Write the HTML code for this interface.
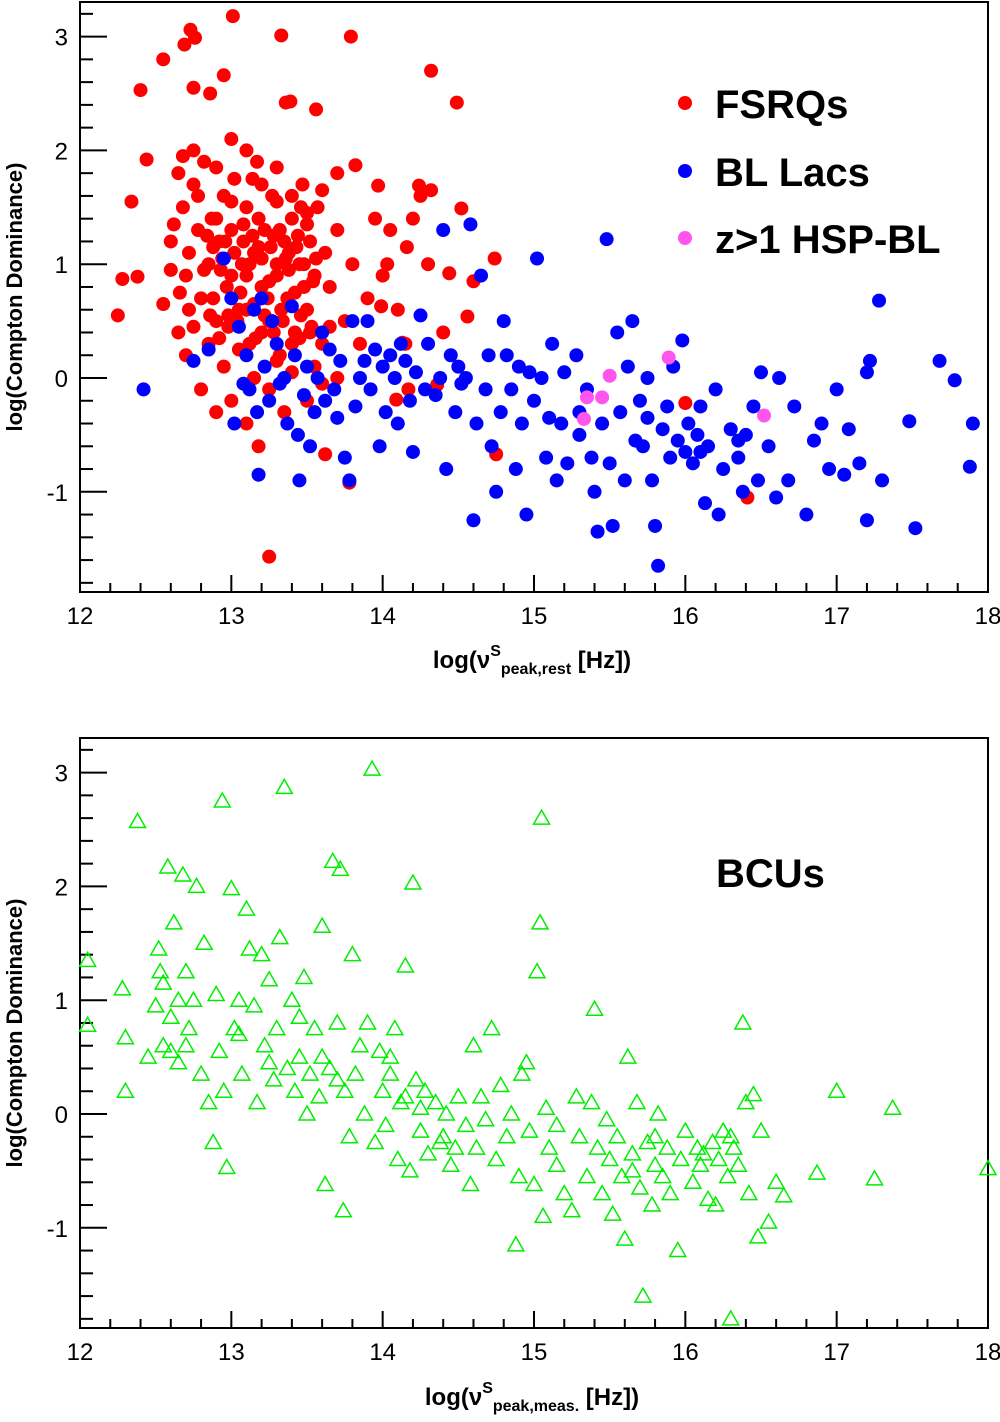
<!DOCTYPE html>
<html><head><meta charset="utf-8"><style>
html,body{margin:0;padding:0;background:#fff;}
svg{display:block;font-family:"Liberation Sans",Arial,sans-serif;}
</style></head><body>
<svg id="chart" width="1000" height="1422" viewBox="0 0 1000 1422" xmlns="http://www.w3.org/2000/svg"></svg>
<script>
const xTicks=[12,13,14,15,16,17,18];
const yTicks=[-1,0,1,2,3];
const fsrqX=[12.25,12.28,12.38,12.34,12.4,12.44,12.55,12.69,12.73,12.76,12.75,12.86,12.95,13.01,13.33,13.79,14.32,14.49,13.36,13.39,13.56,13.25,13.78,13.62,13.18,14.75,16.41,16.0,13.82,13.97,14.24,14.32,14.52,14.74,14.56,14.44,14.16,14.03,13.99,14.13,14.09,14.17,14.36,
12.6,12.62,12.65,12.68,12.7,12.72,12.75,12.78,12.8,12.82,12.85,12.87,12.9,12.92,12.95,12.97,13.0,13.02,13.05,13.07,13.1,13.12,13.15,13.17,13.2,13.22,13.25,13.27,13.3,13.32,13.35,13.37,13.4,13.42,13.45,13.47,13.5,13.52,13.55,13.57,13.6,13.62,13.65,13.7,13.75,13.8,12.7,12.75,12.8,12.85,12.9,12.95,13.0,13.05,13.1,13.15,13.2,13.25,13.3,13.35,13.4,13.45,13.5,13.55,13.6,13.65,13.7,13.85,13.9,14.0,14.05,14.1,14.2,14.3,14.4,14.6,12.55,12.6,12.65,12.9,13.0,13.1,13.2,13.3,13.4,13.5,13.6,13.1,13.15,13.2,13.25,13.28,13.33,13.38,13.43,13.48,13.53,12.98,12.93,12.88,13.08,13.18,12.75,12.68,13.7,13.95,14.15,14.25,
12.82,12.88,12.94,13.0,13.06,13.12,13.18,13.24,13.3,13.36,13.42,13.48,13.54,12.84,12.9,12.96,13.02,13.08,13.14,13.2,13.26,13.32,13.38,13.44,13.5,13.56,12.86,12.92,12.98,13.04,13.1,13.16,13.22,13.28,13.34,13.4,13.46,13.52,12.78,13.0,13.14,13.3,13.46,12.66,12.72];
const fsrqY=[0.55,0.87,0.89,1.55,2.53,1.92,2.8,2.93,3.06,2.99,2.55,2.5,2.66,3.18,3.01,3.0,2.7,2.42,2.42,2.43,2.36,-1.57,-0.92,-0.67,-0.6,-0.67,-1.05,-0.22,1.87,1.69,1.69,1.65,1.49,1.05,0.54,0.92,1.15,1.0,0.63,0.31,-0.19,-0.1,-0.06,
1.2,1.35,1.8,1.5,0.9,1.1,1.7,1.3,0.7,1.9,1.0,1.4,0.5,1.2,1.6,0.8,1.3,1.75,0.6,1.0,1.5,0.3,1.1,1.9,0.8,1.3,0.5,1.6,1.0,0.2,1.2,0.7,1.4,0.4,1.0,1.7,0.6,1.2,0.9,1.5,0.3,1.1,0.8,1.3,0.5,1.0,0.2,0.45,-0.1,0.3,-0.3,0.1,-0.2,0.25,-0.4,0.0,0.4,-0.1,0.15,-0.3,0.05,0.35,-0.2,0.1,-0.05,0.45,0.0,0.3,0.7,0.9,1.3,0.6,1.4,1.0,0.4,0.85,0.65,0.95,0.4,1.85,2.1,2.0,1.7,1.85,1.6,1.45,1.65,0.9,0.65,1.05,0.85,1.25,0.6,0.95,1.15,0.8,0.45,0.55,0.95,1.15,1.2,1.4,2.0,1.95,1.8,1.4,0.3,1.6,
0.95,0.7,1.05,0.9,0.75,1.0,1.15,0.7,0.9,1.05,0.75,1.0,0.85,1.25,1.4,1.2,1.1,1.35,1.25,1.05,1.15,1.3,1.1,1.25,1.35,1.05,0.55,0.35,0.45,0.5,0.6,0.35,0.55,0.4,0.5,0.3,0.55,0.4,1.6,1.55,1.75,1.55,1.5,0.75,0.6];
const blX=[12.42,12.75,12.85,12.95,13.0,13.02,13.05,13.08,13.1,13.12,13.15,13.17,13.18,13.2,13.22,13.25,13.27,13.3,13.32,13.35,13.37,13.4,13.42,13.44,13.45,13.48,13.5,13.52,13.55,13.57,13.6,13.62,13.65,13.68,13.7,13.72,13.75,13.78,13.8,13.82,13.85,13.88,13.9,13.92,13.95,13.98,14.0,14.02,14.05,14.08,14.1,14.12,14.15,14.18,14.2,14.22,14.25,14.28,14.3,14.35,14.38,14.4,14.42,14.45,14.48,14.5,14.52,14.55,14.58,14.6,14.62,14.65,14.68,14.7,14.72,14.75,14.78,14.8,14.82,14.85,14.88,14.9,14.92,14.95,14.97,15.0,15.02,15.05,15.08,15.1,15.12,15.15,15.18,15.2,15.22,15.28,15.3,15.35,15.38,15.4,15.42,15.45,15.48,15.5,15.52,15.55,15.57,15.6,15.62,15.65,15.67,15.7,15.72,15.75,15.78,15.8,15.82,15.85,15.88,15.9,15.92,15.95,15.98,16.0,16.02,16.05,16.08,16.1,16.13,16.15,16.2,16.22,16.25,16.3,16.35,16.38,16.4,16.45,16.48,16.5,16.55,16.6,16.62,16.68,16.72,16.8,16.85,16.9,16.95,17.0,17.05,17.08,17.15,17.2,17.22,17.28,17.3,17.48,17.52,17.68,17.78,17.88,17.9,17.2,16.1,15.3,15.75,16.35];
const blY=[-0.1,0.15,0.25,1.05,0.7,-0.4,0.45,-0.05,0.2,-0.1,0.6,-0.3,-0.85,0.7,0.1,-0.2,0.5,0.3,-0.05,0.0,-0.4,0.63,0.2,-0.5,-0.9,-0.15,0.1,-0.6,-0.3,0.0,0.4,-0.2,0.25,-0.1,-0.35,0.15,-0.7,-0.9,0.5,-0.25,0.0,0.15,0.5,-0.1,0.25,-0.6,0.1,-0.3,0.2,0.0,-0.4,0.3,0.15,-0.2,-0.65,0.05,0.55,-0.1,0.3,-0.15,0.0,1.3,-0.8,0.2,-0.3,0.1,-0.05,0.0,1.35,-1.25,-0.4,0.9,-0.1,0.2,-0.6,-1.0,-0.3,0.5,0.2,-0.1,-0.8,0.1,-0.4,-1.2,0.05,-0.2,1.05,0.0,-0.7,-0.35,0.3,-0.9,-0.4,0.05,-0.75,0.2,-0.5,-0.1,-0.7,-1.0,-1.35,-0.4,1.22,-0.75,-1.3,0.4,-0.3,-0.9,0.1,0.5,-0.55,-0.2,-0.6,0.0,-0.9,-1.3,-1.65,-0.45,-0.25,-0.7,0.1,-0.55,0.33,-0.65,-0.4,-0.75,-0.5,-0.25,-1.1,-0.6,-0.1,-1.2,-0.8,-0.45,-0.7,-1.0,-0.5,-0.25,-0.9,0.05,-0.6,-1.05,0.0,-0.9,-0.25,-1.2,-0.55,-0.4,-0.8,-0.1,-0.85,-0.45,-0.75,-1.25,0.15,0.68,-0.9,-0.38,-1.32,0.15,-0.02,-0.78,-0.4,0.05,-0.65,-0.3,-0.35,-0.55];
const hspX=[15.35,15.45,15.5,15.33,15.89,16.52];
const hspY=[-0.17,-0.17,0.02,-0.36,0.18,-0.33];
const bcuX=[12.05,12.05,12.28,12.3,12.3,12.38,12.45,12.5,12.52,12.53,12.55,12.58,12.6,12.62,12.65,12.68,12.7,12.72,12.75,12.77,12.8,12.82,12.85,12.88,12.9,12.92,12.94,12.95,12.97,13.0,13.02,13.05,13.07,13.1,13.12,13.15,13.17,13.2,13.22,13.25,13.28,13.3,13.32,13.35,13.37,13.4,13.42,13.45,13.48,13.5,13.52,13.55,13.58,13.6,13.62,13.65,13.67,13.7,13.72,13.74,13.75,13.78,13.8,13.82,13.85,13.88,13.9,13.93,13.95,13.98,14.0,14.02,14.05,14.08,14.1,14.12,14.15,14.18,14.2,14.22,14.25,14.28,14.3,14.35,14.38,14.42,14.45,14.48,14.5,14.55,14.58,14.6,14.62,14.65,14.68,14.72,14.75,14.78,14.82,14.85,14.88,14.9,14.92,14.95,14.97,15.0,15.02,15.04,15.05,15.06,15.08,15.1,15.15,15.2,15.25,15.28,15.3,15.35,15.38,15.4,15.42,15.45,15.48,15.5,15.52,15.55,15.58,15.6,15.62,15.65,15.68,15.7,15.72,15.75,15.78,15.8,15.82,15.85,15.88,15.9,15.95,15.97,16.0,16.05,16.08,16.1,16.15,16.18,16.2,16.22,16.25,16.28,16.3,16.32,16.35,16.38,16.4,16.42,16.45,16.48,16.5,16.55,16.6,16.65,16.87,17.0,17.25,17.37,18.0,12.55,12.6,12.65,12.7,13.05,13.25,13.45,13.6,13.7,14.05,14.15,14.25,14.4,15.15,15.65,15.8,16.12,16.3];
const bcuY=[1.35,0.78,1.1,0.67,0.2,2.57,0.5,0.95,1.45,1.25,0.6,2.17,0.85,1.68,0.45,2.1,1.25,0.75,1.0,2.0,0.35,1.5,0.1,-0.25,1.05,0.55,2.75,0.2,-0.47,1.98,0.75,1.0,0.35,1.8,1.45,0.95,0.1,1.4,0.6,1.18,0.3,0.75,1.55,2.87,0.4,1.0,0.2,0.5,1.2,0.0,0.35,0.75,0.15,1.65,-0.62,0.4,2.22,0.8,2.15,-0.85,0.2,-0.2,1.4,0.35,0.6,0.0,0.8,3.03,-0.25,0.55,0.2,-0.1,0.35,0.75,-0.4,0.1,1.3,-0.5,2.03,0.3,-0.15,0.2,-0.35,0.1,-0.25,0.0,-0.45,-0.3,0.15,-0.1,-0.62,0.6,-0.3,0.15,-0.05,0.75,-0.4,0.25,-0.2,0.0,-1.15,-0.55,0.35,0.45,-0.15,-0.62,1.25,1.68,2.6,-0.9,0.05,-0.3,-0.45,-0.7,-0.85,0.15,-0.2,-0.55,0.1,0.92,-0.3,-0.7,-0.05,-0.4,-0.88,-0.2,-0.55,-1.1,0.5,-0.35,0.1,-0.65,-1.6,-0.25,-0.8,-0.45,0.0,-0.55,-0.3,-0.7,-1.2,-0.4,-0.15,-0.6,-0.3,-0.45,-0.75,-0.25,-0.8,-0.4,-0.15,-0.55,-1.8,-0.3,-0.45,0.8,0.1,-0.7,0.17,-1.08,-0.15,-0.95,-0.6,-0.72,-0.52,0.2,-0.57,0.05,-0.48,1.15,0.55,1.0,0.6,0.7,0.45,0.85,0.5,0.3,0.5,0.15,0.05,-0.2,-0.1,-0.5,-0.2,-0.35,-0.2];

const NS="http://www.w3.org/2000/svg";
const svg=document.getElementById('chart');
function mk(tag,attrs,parent){const e=document.createElementNS(NS,tag);for(const k in attrs)e.setAttribute(k,attrs[k]);(parent||svg).appendChild(e);return e;}
const L=80,R=988,XMIN=12,XMAX=18;
function sx(v){return L+(v-XMIN)*(R-L)/(XMAX-XMIN);}
const PPU=113.8;

function panel(top,bottom,zeroY,name){
  const g=mk('g',{});
  
  
  const sy=v=>zeroY-v*PPU;
  const fr=mk('rect',{x:L,y:top,width:R-L,height:bottom-top,fill:'none',stroke:'#000','stroke-width':2},g);
  
  
  for(let i=0;i<=30;i++){const v=XMIN+i*0.2;const x=sx(v);const maj=i%5===0;
    const t=mk('line',{x1:x,x2:x,y1:bottom,y2:bottom-(maj?17:9),stroke:'#000','stroke-width':2},g);
    }
  for(let v=-1.8;v<=3.3;v+=0.2){const vv=Math.round(v*10)/10;const y=sy(vv);if(y<top||y>bottom)continue;const maj=Math.abs(vv-Math.round(vv))<0.01;
    const t=mk('line',{x1:L,x2:L+(maj?27:13),y1:y,y2:y,stroke:'#000','stroke-width':2},g);
    }
  xTicks.forEach(v=>{const t=mk('text',{x:sx(v),y:bottom+32,'text-anchor':'middle','font-size':24,fill:'#000'},g);t.textContent=v;
    });
  yTicks.forEach(v=>{const t=mk('text',{x:L-12,y:sy(v)+9,'text-anchor':'end','font-size':24,fill:'#000'},g);t.textContent=v;
    });
  const yt=mk('text',{x:0,y:0,transform:`translate(22,${(top+bottom)/2}) rotate(-90)`,'text-anchor':'middle','font-size':22,'font-weight':'bold'},g);
  yt.textContent='log(Compton Dominance)';
  
  return {g,sy};
}

const p1=panel(2,592,378,'top-panel');
const p2=panel(738,1328,1114,'bottom-panel');

function xtitle(y,sub){const t=mk('text',{x:532,y:y,'text-anchor':'middle','font-size':24,'font-weight':'bold'});
  t.innerHTML='log(ν<tspan font-size="16" dy="-12">S</tspan><tspan font-size="16" dy="18">'+sub+'</tspan><tspan dy="-6"> [Hz])</tspan>';
  }
xtitle(668,'peak,rest');
xtitle(1405,'peak,meas.');

function dots(xs,ys,color,sy,nm){const g=mk('g',{});
  for(let i=0;i<xs.length;i++){const c=mk('circle',{cx:sx(xs[i]),cy:sy(ys[i]),r:7,fill:color},g);
    }}
dots(fsrqX,fsrqY,'#ff0000',p1.sy,'fsrq-series');
dots(blX,blY,'#0000ff',p1.sy,'bl-lac-series');
dots(hspX,hspY,'#ff55ee',p1.sy,'hsp-bl-series');

const gb=mk('g',{});
for(let i=0;i<bcuX.length;i++){const x=sx(bcuX[i]),y=p2.sy(bcuY[i]);
  const t=mk('polygon',{points:`${x},${y-8} ${x-8},${y+6} ${x+8},${y+6}`,fill:'none',stroke:'#00ee00','stroke-width':1.5},gb);
  }

const leg=[['FSRQs','#ff0000',105],['BL Lacs','#0000ff',173],['z>1 HSP-BL','#ff55ee',240]];
leg.forEach(l=>{const g=mk('g',{});
  mk('circle',{cx:685,cy:l[2]-2,r:7,fill:l[1]},g);
  const t=mk('text',{x:715,y:l[2]+13,'font-size':40,'font-weight':'bold'},g);t.textContent=l[0];});
const bl=mk('text',{x:716,y:887,'font-size':40,'font-weight':'bold'});bl.textContent='BCUs';

</script>
</body></html>
